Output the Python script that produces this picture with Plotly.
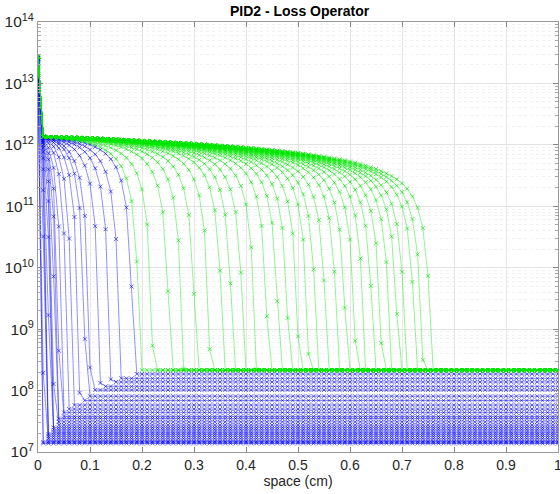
import numpy as np
import plotly.graph_objects as go

# ---- data ----
x_grid = [round(i * 0.01, 2) for i in range(101)]          # space (cm)

# plateau envelope (log10 of density) behind the front
env_x = [0.01, 0.1, 0.2, 0.3, 0.4, 0.5, 0.6, 0.7, 0.8, 1.0]
env_log = [12.13, 12.11, 12.07, 12.03, 11.98, 11.92, 11.84, 11.73, 11.6, 11.3]

# blue curves (early times): front position, floor level, value at x=0
blue_front = [0.010, 0.012, 0.014, 0.017, 0.020, 0.023, 0.026, 0.029, 0.032, 0.035,
              0.038, 0.042, 0.046, 0.052, 0.062, 0.072, 0.085, 0.097, 0.106, 0.125,
              0.145, 0.164, 0.190]
blue_floor = [1.38e7, 1.45e7, 1.5e7, 1.65e7, 1.8e7, 1.95e7, 2.1e7, 2.3e7, 2.5e7, 2.75e7,
              3.1e7, 3.5e7, 3.8e7, 4.4e7, 5.0e7, 5.8e7, 6.9e7, 8.1e7, 1.02e8, 1.17e8,
              1.38e8, 1.58e8, 1.86e8]
blue_src = [1.0e13, 1.1e13, 1.2e13, 1.3e13, 1.4e13, 1.5e13, 1.6e13, 1.7e13, 1.8e13, 1.9e13,
            2.0e13, 2.1e13, 2.2e13, 2.3e13, 2.35e13, 2.4e13, 2.45e13, 2.5e13, 2.5e13, 2.55e13,
            2.55e13, 2.6e13, 2.6e13]

# green curves (later times)
green_front = [0.202, 0.227, 0.260, 0.285, 0.310, 0.337, 0.362, 0.381, 0.402, 0.425,
               0.449, 0.470, 0.489, 0.508, 0.527, 0.543, 0.562, 0.583, 0.600, 0.618,
               0.635, 0.652, 0.668, 0.685, 0.700, 0.714, 0.733, 0.747, 0.764]
green_floor = [2.15e8] * len(green_front)
green_src = [2.75e13] * len(green_front)

x_tick_vals = [0, 0.1, 0.2, 0.3, 0.4, 0.5, 0.6, 0.7, 0.8, 0.9, 1]
x_tick_text = ["0", "0.1", "0.2", "0.3", "0.4", "0.5", "0.6", "0.7", "0.8", "0.9", "1"]
y_exponents = [7, 8, 9, 10, 11, 12, 13, 14]

front_width = 0.12   # sharpness of the front

x = np.array(x_grid)
P = 10 ** np.interp(x, env_x, env_log)


def profile(xf, floor, src):
    u = x / xf
    with np.errstate(divide="ignore", invalid="ignore"):
        L = np.where(x < xf, -(front_width / xf) * u ** 2 / (1 - u ** 2), -np.inf)
    y = floor + P * np.exp(L)
    y[0] = src
    return y


def stacked(fronts, floors, srcs):
    xs, ys = [], []
    for xf, fl, s in zip(fronts, floors, srcs):
        xs += list(x) + [None]
        ys += list(profile(xf, fl, s)) + [None]
    return xs, ys


bx, by = stacked(blue_front, blue_floor, blue_src)
gx, gy = stacked(green_front, green_floor, green_src)

fig = go.Figure()
fig.add_trace(go.Scatter(
    x=bx, y=by, mode="lines+markers", connectgaps=False,
    line=dict(color="rgba(0,0,255,0.55)", width=0.8),
    marker=dict(symbol="x-thin", size=4, line=dict(color="rgba(0,0,255,0.75)", width=0.8)),
    showlegend=False, hoverinfo="skip"))
fig.add_trace(go.Scatter(
    x=gx, y=gy, mode="lines+markers", connectgaps=False,
    line=dict(color="rgba(0,230,0,0.55)", width=0.8),
    marker=dict(symbol="x-thin", size=4, line=dict(color="rgba(0,230,0,0.8)", width=0.8)),
    showlegend=False, hoverinfo="skip"))

font = "Liberation Sans, Arial, sans-serif"

fig.update_layout(
    width=560, height=494,
    margin=dict(l=38, r=2, t=22, b=42),
    paper_bgcolor="white", plot_bgcolor="white",
    font=dict(family=font, size=14, color="#262626"),
    title=dict(text="<b>PID2 - Loss Operator</b>", x=0.535, xanchor="center",
               y=1 - 11 / 494, yanchor="middle", yref="container",
               font=dict(size=14, color="black")),
    xaxis=dict(
        range=[0, 1], tickvals=x_tick_vals, ticktext=x_tick_text,
        showgrid=True, gridcolor="#e6e6e6", gridwidth=1,
        ticks="inside", ticklen=5, tickcolor="#888", showline=True, linecolor="#999",
        linewidth=1, mirror="ticks", zeroline=False, ticklabeloverflow="allow",
        automargin=False,
        title=dict(text="space (cm)", standoff=3, font=dict(size=14)),
        tickfont=dict(size=14)),
    yaxis=dict(
        type="log", range=[7, 14],
        tickvals=[10 ** k for k in y_exponents],
        ticktext=[f"10<sup>{k}</sup>" for k in y_exponents],
        showgrid=True, gridcolor="#e3e3e3", gridwidth=1,
        ticks="inside", ticklen=5, tickcolor="#888", showline=True, linecolor="#999",
        linewidth=1, mirror="ticks", zeroline=False, tickfont=dict(size=15.5),
        ticklabeloverflow="allow", automargin=False,
        minor=dict(showgrid=True, gridcolor="#f1f1f1", griddash="dot", ticks="inside",
                   ticklen=3, tickcolor="#aaa", dtick="D1")),
)

fig.write_html("out.html")
